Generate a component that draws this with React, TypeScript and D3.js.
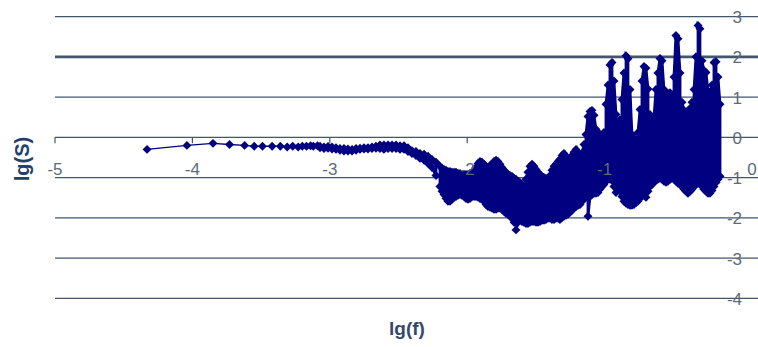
import React, { useEffect, useRef } from "react";
import * as d3 from "d3";

// low frequency end, single points
const lowF = [-4.33, -4.04, -3.85, -3.73, -3.62, -3.55, -3.49, -3.42, -3.36, -3.31, -3.27, -3.23, -3.2, -3.17, -3.14, -3.12, -3.09];
const lowS = [-0.3, -0.2, -0.15, -0.18, -0.2, -0.22, -0.22, -0.22, -0.22, -0.24, -0.22, -0.24, -0.22, -0.22, -0.21, -0.22, -0.21];

// dense part: for each lg(f) the highest and lowest lg(S)
const bandF = [
  -3.071, -3.042, -3.013, -2.984, -2.955, -2.926, -2.897, -2.868, -2.838, -2.809,
  -2.780, -2.751, -2.722, -2.693, -2.664, -2.635, -2.606, -2.576, -2.547, -2.518,
  -2.489, -2.460, -2.431, -2.402, -2.373, -2.344, -2.314, -2.285, -2.256, -2.227,
  -2.198, -2.183, -2.169, -2.154, -2.140, -2.125, -2.111, -2.096, -2.082, -2.067,
  -2.052, -2.038, -2.023, -2.009, -1.994, -1.980, -1.965, -1.950, -1.936, -1.921,
  -1.907, -1.892, -1.878, -1.863, -1.849, -1.834, -1.819, -1.805, -1.790, -1.776,
  -1.761, -1.747, -1.732, -1.718, -1.703, -1.689, -1.674, -1.659, -1.645, -1.630,
  -1.616, -1.601, -1.587, -1.572, -1.558, -1.543, -1.528, -1.514, -1.499, -1.485,
  -1.470, -1.456, -1.441, -1.427, -1.412, -1.397, -1.383, -1.368, -1.354, -1.339,
  -1.325, -1.310, -1.296, -1.281, -1.267, -1.252, -1.237, -1.223, -1.208, -1.194,
  -1.179, -1.165, -1.150, -1.136, -1.121, -1.106, -1.092, -1.077, -1.063, -1.048,
  -1.034, -1.019, -1.005, -0.990, -0.975, -0.961, -0.946, -0.932, -0.917, -0.903,
  -0.888, -0.874, -0.859, -0.844, -0.830, -0.815, -0.801, -0.786, -0.772, -0.757,
  -0.742, -0.728, -0.713, -0.699, -0.684, -0.670, -0.655, -0.641, -0.626, -0.612,
  -0.597, -0.582, -0.568, -0.553, -0.539, -0.524, -0.510, -0.495, -0.481, -0.466,
  -0.451, -0.437, -0.422, -0.408, -0.393, -0.378, -0.364, -0.349, -0.335, -0.320,
  -0.306, -0.291, -0.277, -0.262, -0.248, -0.233, -0.218, -0.204, -0.189, -0.175,
  -0.160,
];
const bandHi = [
  -0.22, -0.24, -0.23, -0.24, -0.26, -0.28, -0.28, -0.29, -0.30, -0.28,
  -0.27, -0.26, -0.26, -0.24, -0.22, -0.19, -0.19, -0.19, -0.19, -0.19,
  -0.21, -0.21, -0.26, -0.33, -0.35, -0.40, -0.42, -0.47, -0.55, -0.62,
  -0.72, -0.77, -0.80, -0.82, -0.85, -0.85, -0.87, -0.87, -0.87, -0.90,
  -0.90, -0.92, -0.92, -0.92, -0.92, -0.90, -0.87, -0.82, -0.75, -0.65,
  -0.60, -0.62, -0.67, -0.72, -0.75, -0.70, -0.67, -0.60, -0.57, -0.60,
  -0.67, -0.75, -0.82, -0.87, -0.92, -0.95, -0.97, -1.02, -1.04, -1.09,
  -1.12, -1.17, -1.22, -1.04, -0.87, -0.72, -0.67, -0.72, -0.80, -0.87,
  -0.92, -0.97, -1.00, -1.02, -1.04, -0.95, -0.82, -0.72, -0.67, -0.60,
  -0.55, -0.45, -0.40, -0.47, -0.55, -0.52, -0.45, -0.37, -0.30, -0.37,
  -0.42, -0.40, -0.18, 0.07, 0.52, 0.64, 0.67, 0.55, 0.20, 0.12,
  0.07, -0.03, 0.12, 0.82, 1.30, 1.80, 1.86, 1.40, 0.57, 0.39,
  0.44, 0.94, 1.60, 2.03, 1.95, 1.19, 0.07, -0.08, -0.05, 0.12,
  0.69, 1.40, 1.76, 1.72, 1.20, 0.57, 0.37, 0.47, 1.19, 1.60,
  1.96, 1.90, 1.19, 1.04, 1.09, 1.11, 1.06, 1.50, 2.53, 2.45,
  1.60, 0.87, 0.67, 0.57, 0.62, 0.72, 0.87, 1.19, 2.00, 2.78,
  2.70, 1.90, 1.66, 1.61, 1.16, 1.06, 1.30, 1.86, 1.88, 1.50,
  0.82,
];
const bandLo = [
  -0.26, -0.28, -0.27, -0.29, -0.30, -0.32, -0.34, -0.34, -0.34, -0.32,
  -0.30, -0.29, -0.29, -0.28, -0.27, -0.28, -0.30, -0.28, -0.28, -0.28,
  -0.30, -0.30, -0.35, -0.40, -0.45, -0.52, -0.57, -0.65, -0.75, -0.95,
  -1.22, -1.34, -1.42, -1.52, -1.59, -1.59, -1.54, -1.49, -1.47, -1.44,
  -1.42, -1.44, -1.47, -1.52, -1.54, -1.52, -1.47, -1.47, -1.47, -1.49,
  -1.52, -1.54, -1.59, -1.67, -1.72, -1.74, -1.76, -1.79, -1.79, -1.76,
  -1.76, -1.79, -1.84, -1.89, -1.91, -1.96, -2.01, -2.11, -2.30, -2.11,
  -2.06, -2.09, -2.11, -2.14, -2.14, -2.11, -2.09, -2.09, -2.11, -2.11,
  -2.09, -2.06, -2.06, -2.04, -2.01, -2.01, -2.04, -2.04, -2.01, -2.01,
  -2.04, -1.99, -1.96, -1.94, -1.91, -1.86, -1.81, -1.76, -1.72, -1.69,
  -1.67, -1.59, -1.54, -1.49, -1.96, -1.47, -1.42, -1.39, -1.39, -1.37,
  -1.29, -1.22, -1.17, -1.09, -1.04, -1.04, -1.07, -1.22, -1.37, -1.22,
  -1.34, -1.47, -1.59, -1.64, -1.67, -1.69, -1.69, -1.67, -1.62, -1.59,
  -1.49, -1.47, -1.44, -1.49, -1.34, -1.22, -1.17, -1.12, -1.07, -1.04,
  -1.02, -1.04, -1.09, -1.12, -1.09, -1.04, -1.02, -1.04, -1.09, -1.14,
  -1.17, -1.22, -1.29, -1.34, -1.39, -1.34, -1.29, -1.22, -1.17, -1.14,
  -1.14, -1.22, -1.29, -1.34, -1.39, -1.39, -1.32, -1.22, -1.12, -1.04,
  -0.97,
];

const xTicks = [-5, -4, -3, -2, -1, 0];
const yTicks = [-4, -3, -2, -1, 0, 1, 2, 3];

export default function App() {
  const svgRef = useRef<SVGSVGElement>(null);

  useEffect(() => {
    const width = 758;
    const height = 347;
    const svg = d3.select(svgRef.current)
      .attr("width", width)
      .attr("height", height);

    svg.selectAll("*").remove();

    const x = d3.scaleLinear().domain([-5, 0]).range([55, 742]);
    const y = d3.scaleLinear().domain([-4, 3]).range([298.3, 16.6]);
    const font = "'Liberation Sans', Arial, sans-serif";
    const gridColor = "#44566a";
    const navy = "#000080";

    // horizontal lines, the one at 2 is heavier
    svg.append("g")
      .selectAll("line")
      .data(yTicks)
      .join("line")
      .attr("x1", x(-5))
      .attr("x2", width)
      .attr("y1", (d) => y(d))
      .attr("y2", (d) => y(d))
      .attr("stroke", gridColor)
      .attr("stroke-width", (d) => (d === 2 ? 2.8 : 1.2));

    // tick marks on the lg(f) axis
    svg.append("g")
      .selectAll("line")
      .data(xTicks.slice(0, -1))
      .join("line")
      .attr("x1", (d) => x(d))
      .attr("x2", (d) => x(d))
      .attr("y1", y(0))
      .attr("y2", y(0) + 6)
      .attr("stroke", gridColor)
      .attr("stroke-width", 1.2);

    // series points in drawing order
    const low: [number, number][] = lowF.map((f, i) => [f, lowS[i]]);
    const band: [number, number][] = [];
    bandF.forEach((f, i) => {
      if (i % 2 === 0) {
        band.push([f, bandHi[i]]);
        band.push([f, bandLo[i]]);
      } else {
        band.push([f, bandLo[i]]);
        band.push([f, bandHi[i]]);
      }
    });
    const pts = low.concat(band);

    const line = d3.line<[number, number]>()
      .x((d) => x(d[0]))
      .y((d) => y(d[1]));

    svg.append("path")
      .datum(pts)
      .attr("d", line)
      .attr("fill", "none")
      .attr("stroke", navy)
      .attr("stroke-width", 1.4);

    // the dense part is so packed that it reads as solid
    svg.append("path")
      .datum(band)
      .attr("d", line)
      .attr("fill", "none")
      .attr("stroke", navy)
      .attr("stroke-width", 2.8);

    const diamond = d3.symbol().type(d3.symbolSquare).size(40)();
    svg.append("g")
      .selectAll("path")
      .data(pts)
      .join("path")
      .attr("d", diamond)
      .attr("transform", (d) => `translate(${x(d[0])},${y(d[1])}) rotate(45)`)
      .attr("fill", navy);

    // value labels at the right
    svg.append("g")
      .selectAll("text")
      .data(yTicks)
      .join("text")
      .attr("x", 742)
      .attr("y", (d) => y(d) + 6.5)
      .attr("text-anchor", "end")
      .style("font-family", font)
      .style("font-size", "17px")
      .attr("fill", "#5d6a78")
      .text((d) => d);

    // lg(f) labels, the 0 one sits further right, past the value labels
    svg.append("g")
      .selectAll("text")
      .data(xTicks)
      .join("text")
      .attr("x", (d) => x(d) + (d === 0 ? 10 : 0))
      .attr("y", 174.5)
      .attr("text-anchor", "middle")
      .style("font-family", font)
      .style("font-size", "17px")
      .attr("fill", "#5d6a78")
      .text((d) => d);

    svg.append("text")
      .attr("transform", "translate(29,159) rotate(-90)")
      .attr("text-anchor", "middle")
      .style("font-family", font)
      .style("font-size", "20px")
      .style("font-weight", "bold")
      .attr("fill", "#22406a")
      .text("lg(S)");

    svg.append("text")
      .attr("x", 407)
      .attr("y", 335)
      .attr("text-anchor", "middle")
      .style("font-family", font)
      .style("font-size", "19px")
      .style("font-weight", "bold")
      .attr("fill", "#33486a")
      .text("lg(f)");
  }, []);

  return (
    <svg ref={svgRef} style={{ position: "absolute", left: 0, top: 0 }} />
  );
}
